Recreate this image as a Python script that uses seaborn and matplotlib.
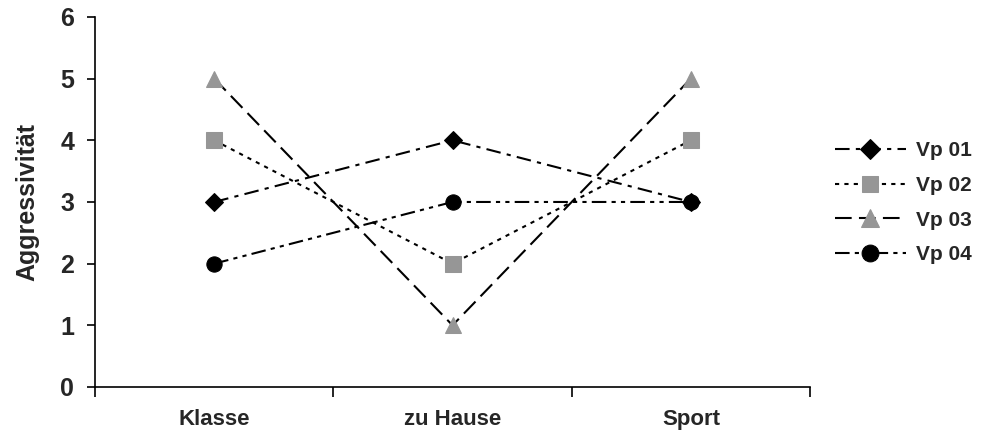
import matplotlib
matplotlib.use("Agg")
import matplotlib.pyplot as plt
import seaborn as sns
import pandas as pd

# Aggressivität je Versuchsperson und Situation
situationen = ["Klasse", "zu Hause", "Sport"]
vp01 = [3, 4, 3]
vp02 = [4, 2, 4]
vp03 = [5, 1, 5]
vp04 = [2, 3, 3]

serien = {"Vp 01": vp01, "Vp 02": vp02, "Vp 03": vp03, "Vp 04": vp04}

stile = {
    "Vp 01": dict(marker="D", markersize=9, mfc="black", mec="black",
                  linestyle=(0, (7, 3, 2, 3))),
    "Vp 02": dict(marker="s", markersize=11, mfc="#969696", mec="#969696",
                  linestyle=(0, (2, 2.5))),
    "Vp 03": dict(marker="^", markersize=12, mfc="#969696", mec="#969696",
                  linestyle=(0, (8, 3.5))),
    "Vp 04": dict(marker="o", markersize=11, mfc="black", mec="black",
                  linestyle=(0, (7, 2.5, 2, 2.5, 2, 2.5))),
}

sns.set_style("white")
plt.rcParams["font.family"] = ["Liberation Sans", "DejaVu Sans"]
plt.rcParams["font.weight"] = "bold"

fig = plt.figure(figsize=(9.87, 4.46), dpi=100)
ax = fig.add_axes([0.0963, 0.1323, 0.7244, 0.8297])

df = pd.DataFrame({"Situation": situationen * len(serien),
                   "Wert": sum(serien.values(), []),
                   "Vp": [n for n in serien for _ in situationen]})

for name in serien:
    sub = df[df["Vp"] == name]
    sns.lineplot(data=sub, x="Situation", y="Wert", ax=ax, color="black",
                 linewidth=1.5, label=name, sort=False, **stile[name])

ax.set_xlim(-0.5, 2.5)
ax.set_ylim(0, 6)
ax.set_yticks(range(0, 7))
ax.set_xticks(range(len(situationen)))
ax.set_xticklabels(situationen, fontsize=16, fontweight="bold")
ax.set_xticks([-0.5, 0.5, 1.5, 2.5], minor=True)
ax.tick_params(axis="x", which="major", length=0, pad=16)
ax.tick_params(axis="x", which="minor", length=7, width=1.2, direction="out",
               color="black", bottom=True)
ax.tick_params(axis="y", length=6, width=1.2, direction="out", color="black",
               labelsize=18, pad=9, left=True)
for lab in ax.get_yticklabels():
    lab.set_fontweight("bold")

ax.set_xlabel("")
ax.set_ylabel("Aggressivität", fontsize=18, fontweight="bold", labelpad=15)

for side in ["top", "right"]:
    ax.spines[side].set_visible(False)
for side in ["left", "bottom"]:
    ax.spines[side].set_color("black")
    ax.spines[side].set_linewidth(1.2)

leg = ax.legend(loc="center left", bbox_to_anchor=(0.846, 0.545),
                bbox_transform=fig.transFigure, frameon=False,
                handlelength=3.4, handletextpad=0.5, labelspacing=0.75,
                borderpad=0, borderaxespad=0, markerscale=1.1,
                prop={"weight": "bold", "size": 15})

fig.savefig("out.png", dpi=100)
